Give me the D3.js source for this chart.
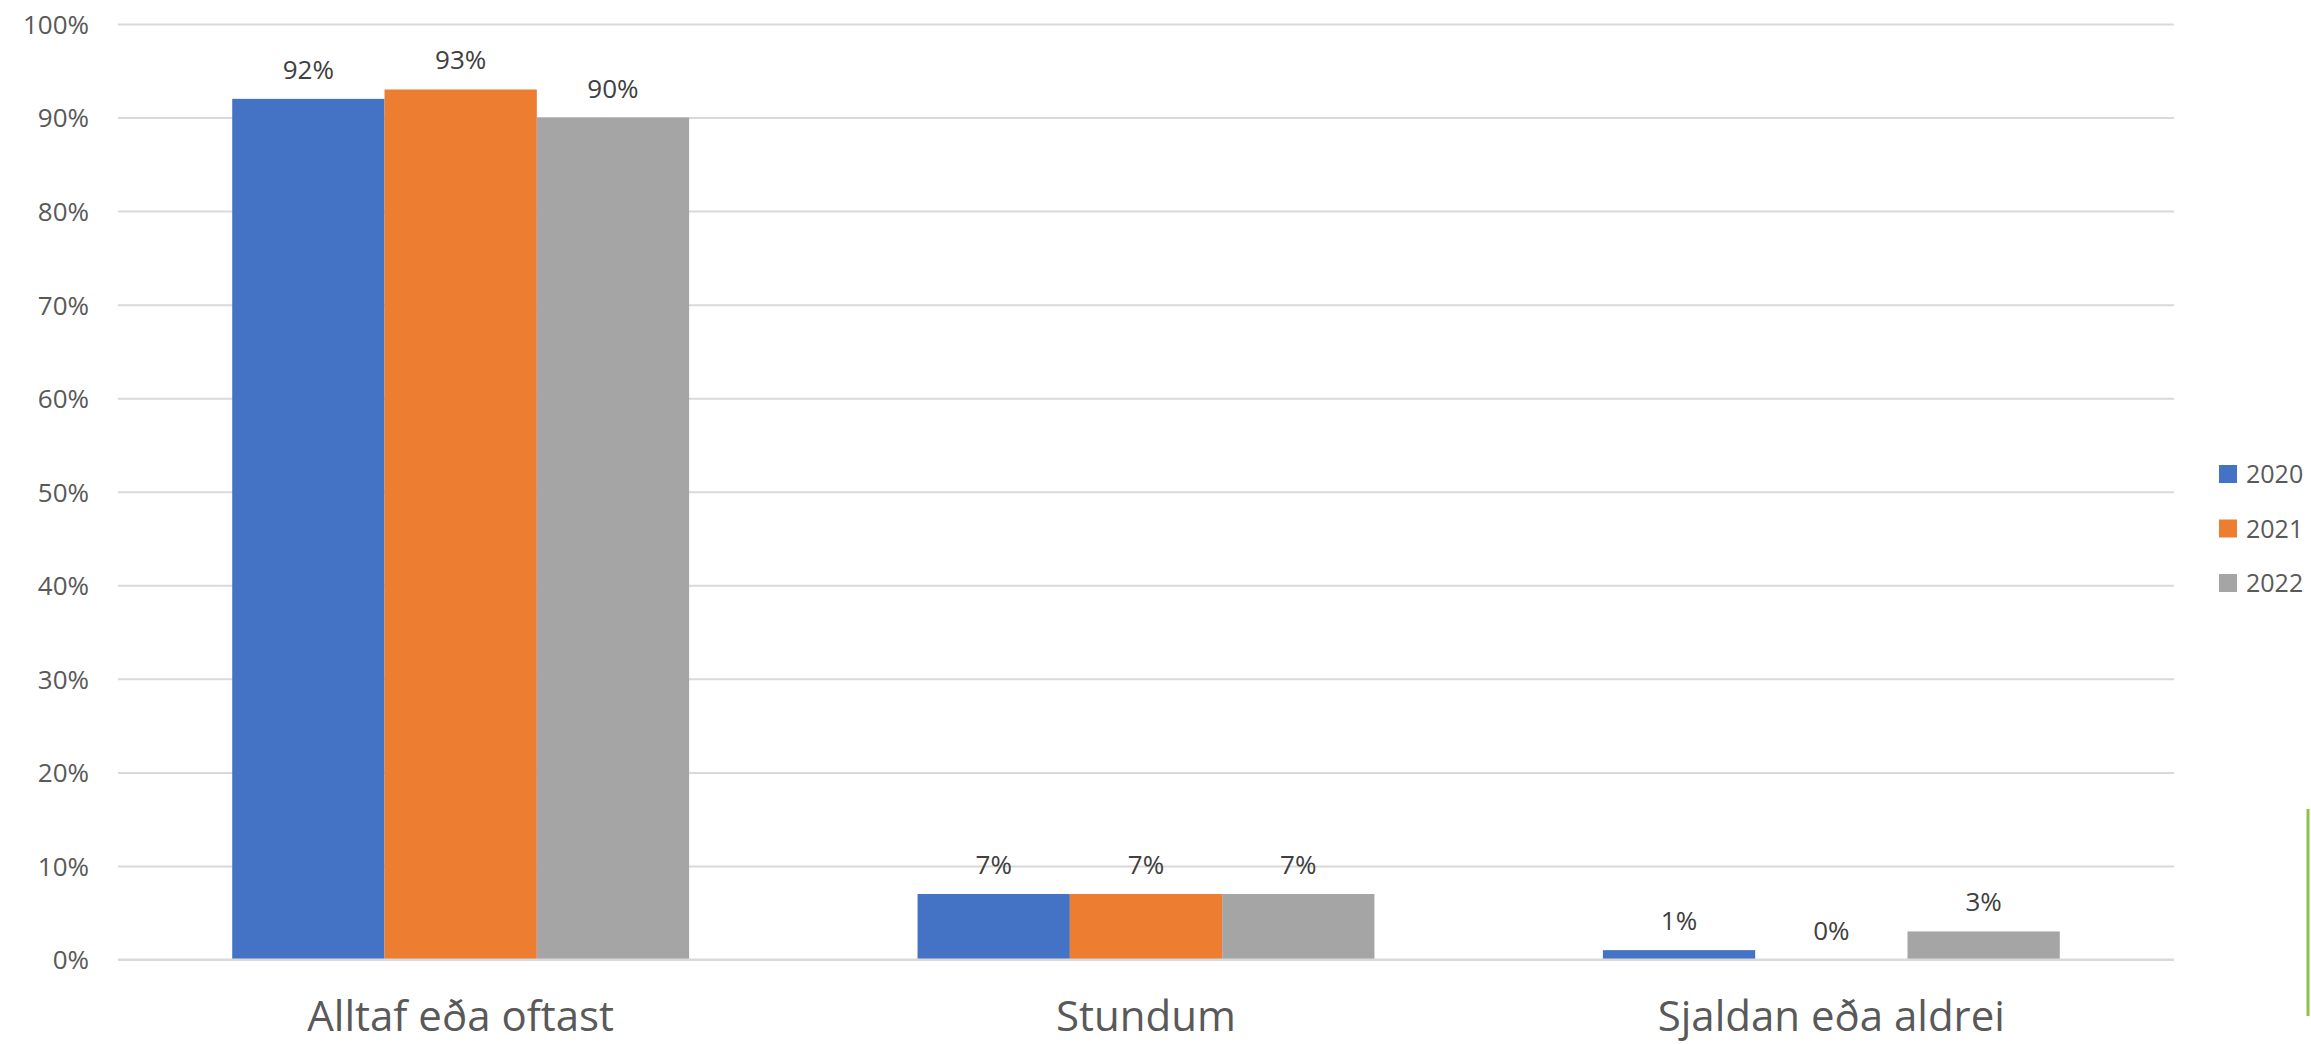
<!DOCTYPE html>
<html>
<head>
<meta charset="utf-8">
<script src="https://cdn.jsdelivr.net/npm/d3@7"></script>
<style>
  html, body { margin: 0; padding: 0; background: #fff; overflow: hidden; }
  svg { display: block; }
</style>
</head>
<body>
<svg id="chart" width="2311" height="1044"></svg>
<script>
const categories = ["Alltaf eða oftast", "Stundum", "Sjaldan eða aldrei"];
const seriesNames = ["2020", "2021", "2022"];
const values2020 = [92, 7, 1];
const values2021 = [93, 7, 0];
const values2022 = [90, 7, 3];
const seriesValues = [values2020, values2021, values2022];
const colors = ["#4472C4", "#ED7D31", "#A5A5A5"];
const yTicks = [0, 10, 20, 30, 40, 50, 60, 70, 80, 90, 100];

const font = "'Open Sans', sans-serif";
const svg = d3.select("#chart");
const plot = { left: 118, right: 2174, top: 24, bottom: 959.5 };

const x0 = d3.scaleBand().domain(categories).range([plot.left, plot.right]).padding(0);
const groupW = x0.bandwidth() * (2 / 3);
const x1 = d3.scaleBand().domain(seriesNames)
  .range([(x0.bandwidth() - groupW) / 2, (x0.bandwidth() + groupW) / 2]).padding(0);
const y = d3.scaleLinear().domain([0, 100]).range([plot.bottom, plot.top]);

// gridlines + tick labels
const yAxis = d3.axisLeft(y).tickValues(yTicks).tickSize(-(plot.right - plot.left))
  .tickFormat(d => d + "%").tickPadding(29);
const gy = svg.append("g").attr("transform", `translate(${plot.left},0)`).call(yAxis);
gy.select(".domain").remove();
gy.selectAll(".tick line").attr("stroke", "#D9D9D9").attr("stroke-width", 2);
gy.selectAll(".tick text").attr("font-family", font).attr("font-size", 26).attr("fill", "#595959").attr("dy", "0.36em");

// bars
const data = [];
categories.forEach((c, ci) => seriesNames.forEach((s, si) => data.push({ c, s, si, v: seriesValues[si][ci] })));
svg.append("g").selectAll("rect").data(data).join("rect")
  .attr("x", d => x0(d.c) + x1(d.s))
  .attr("width", x1.bandwidth())
  .attr("y", d => y(d.v))
  .attr("height", d => y(0) - y(d.v))
  .attr("fill", d => colors[d.si]);

svg.append("line").attr("x1", plot.left).attr("x2", plot.right).attr("y1", y(0)).attr("y2", y(0))
  .attr("stroke", "#D9D9D9").attr("stroke-width", 2);

// data labels
svg.append("g").selectAll("text").data(data).join("text")
  .attr("x", d => x0(d.c) + x1(d.s) + x1.bandwidth() / 2)
  .attr("y", d => y(d.v) - 20)
  .attr("text-anchor", "middle")
  .attr("font-family", font).attr("font-size", 26).attr("fill", "#404040")
  .text(d => d.v + "%");

// category labels
svg.append("g").selectAll("text").data(categories).join("text")
  .attr("x", d => x0(d) + x0.bandwidth() / 2)
  .attr("y", 1031)
  .attr("text-anchor", "middle")
  .attr("font-family", font).attr("font-size", 42).attr("fill", "#595959")
  .text(d => d);

// legend
const leg = svg.append("g");
seriesNames.forEach((s, i) => {
  const cy = 474 + i * 54.5;
  leg.append("rect").attr("x", 2219).attr("y", cy - 9).attr("width", 18).attr("height", 18).attr("fill", colors[i]);
  leg.append("text").attr("x", 2246).attr("y", cy).attr("dy", "0.36em")
    .attr("font-family", font).attr("font-size", 25).attr("fill", "#595959").text(s);
});

// green edge line
svg.append("line").attr("x1", 2308).attr("x2", 2308).attr("y1", 809).attr("y2", 1016)
  .attr("stroke", "#8BC34A").attr("stroke-width", 3);
</script>
</body>
</html>
